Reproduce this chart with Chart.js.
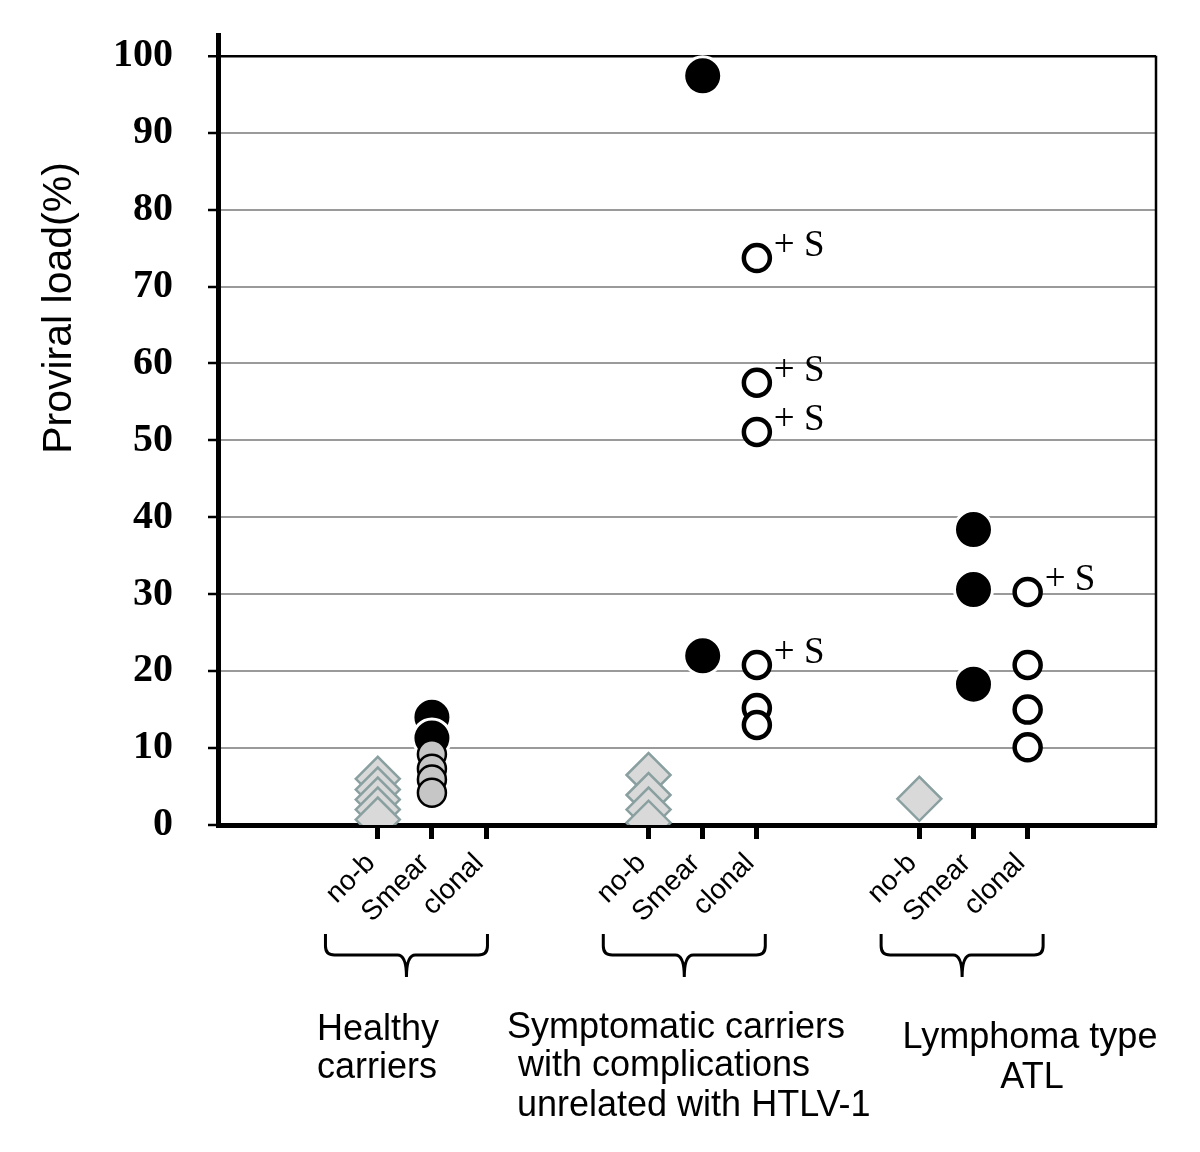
<!DOCTYPE html>
<html>
<head>
<meta charset="utf-8">
<script src="https://cdn.jsdelivr.net/npm/chart.js@4.4.1/dist/chart.umd.min.js"></script>
<style>
  html, body { margin: 0; padding: 0; background: #fff; }
</style>
</head>
<body>
<canvas id="loadChart" width="1200" height="1152"></canvas>
<script>
// Sub-categories inside each group and group captions
const subLabels = ['no-b', 'Smear', 'clonal'];
const groupNames = [
    ['Healthy', 'carriers'],
    ['Symptomatic carriers', 'with complications', ' unrelated with HTLV-1'],
    ['Lymphoma type', 'ATL']
];
const groupStart = [3, 8, 13];   // x slot of the "no-b" column of each group
const yTicks = [0, 10, 20, 30, 40, 50, 60, 70, 80, 90, 100];

// Proviral load (%)
const healthyNoB = [6.0, 4.6, 3.3, 2.0, 0.7];
const healthySmearDark = [14.0, 11.3];
const healthySmearGrey = [9.2, 7.3, 5.9, 4.2];
const symptNoB = [6.5, 3.9, 2.0, 0.3];
const symptSmear = [97.4, 22.0];
const symptClonal = [73.7, 57.5, 51.1, 20.8, 15.2, 13.0];
const symptClonalS = [true, true, true, true, false, false];
const atlNoB = [3.4];
const atlSmear = [38.4, 30.6, 18.3];
const atlClonal = [30.3, 20.8, 15.0, 10.1];
const atlClonalS = [true, false, false, false];

// helper: values -> scatter points on a slot
function pts(values, slot) {
    return values.map(v => ({ x: slot, y: v }));
}

const slots = [];
groupStart.forEach(s => slots.push(s, s + 1, s + 2));

const noBData = [].concat(pts(healthyNoB, groupStart[0]), pts(symptNoB, groupStart[1]), pts(atlNoB, groupStart[2]));
const smearDarkData = [].concat(pts(healthySmearDark, groupStart[0] + 1), pts(symptSmear, groupStart[1] + 1), pts(atlSmear, groupStart[2] + 1));
const smearGreyData = pts(healthySmearGrey, groupStart[0] + 1);
const clonalData = [].concat(pts(symptClonal, groupStart[1] + 2), pts(atlClonal, groupStart[2] + 2));
const clonalFlags = symptClonalS.concat(atlClonalS);

// Extra drawing: frame, "+ S" notes, braces, group captions, y title
const decor = {
    id: 'decor',
    afterDraw(chart) {
        const { ctx, chartArea } = chart;
        const xs = chart.scales.x, ys = chart.scales.y;
        ctx.save();

        // right side of the frame
        ctx.strokeStyle = '#000';
        ctx.lineWidth = 2.5;
        ctx.beginPath();
        ctx.moveTo(chartArea.right, ys.getPixelForValue(100));
        ctx.lineTo(chartArea.right, chartArea.bottom);
        ctx.stroke();

        // "+ S" notes
        ctx.fillStyle = '#000';
        ctx.font = '37px "Liberation Serif"';
        ctx.textAlign = 'left';
        ctx.textBaseline = 'alphabetic';
        chart.getDatasetMeta(3).data.forEach((pt, i) => {
            if (clonalFlags[i]) ctx.fillText('+ S', pt.x + 17, pt.y - 2);
        });

        // braces under each group
        const braceMid = [3.53, 8.66, 13.79];
        ctx.lineWidth = 3;
        braceMid.forEach(m => {
            const xm = xs.getPixelForValue(m);
            const xl = xm - 81, xr = xm + 81;
            const yTop = 934, yMid = 955, yTip = 977, r = 9;
            ctx.beginPath();
            ctx.moveTo(xl, yTop);
            ctx.lineTo(xl, yMid - r);
            ctx.quadraticCurveTo(xl, yMid, xl + r, yMid);
            ctx.lineTo(xm - r, yMid);
            ctx.quadraticCurveTo(xm, yMid, xm, yTip);
            ctx.moveTo(xr, yTop);
            ctx.lineTo(xr, yMid - r);
            ctx.quadraticCurveTo(xr, yMid, xr - r, yMid);
            ctx.lineTo(xm + r, yMid);
            ctx.quadraticCurveTo(xm, yMid, xm, yTip);
            ctx.stroke();
        });

        // group captions
        ctx.font = '36px "Liberation Sans"';
        ctx.textAlign = 'left';
        ctx.fillText(groupNames[0][0], 317, 1040);
        ctx.fillText(groupNames[0][1], 317, 1078);
        ctx.fillText(groupNames[1][0], 507, 1038);
        ctx.fillText(groupNames[1][1], 518, 1076);
        ctx.fillText(groupNames[1][2], 507, 1116);
        ctx.textAlign = 'center';
        ctx.fillText(groupNames[2][0], 1030, 1048);
        ctx.fillText(groupNames[2][1], 1032, 1088);

        // y axis title
        ctx.translate(60, 308);
        ctx.rotate(-Math.PI / 2);
        ctx.font = '41px "Liberation Sans"';
        ctx.textAlign = 'center';
        ctx.textBaseline = 'middle';
        ctx.fillText('Proviral load(%)', 0, 0);

        ctx.restore();
    }
};

const ctx = document.getElementById('loadChart').getContext('2d');
const loadChart = new Chart(ctx, {
    type: 'scatter',
    data: {
        datasets: [
            {
                label: 'no-b',
                data: noBData,
                pointStyle: 'rectRot',
                pointRadius: 22,
                backgroundColor: '#d9d9d9',
                borderColor: '#8aa0a0',
                borderWidth: 2.5,
                order: 3
            },
            {
                label: 'Smear',
                data: smearDarkData,
                pointRadius: 19,
                backgroundColor: '#000',
                borderColor: '#fff',
                borderWidth: 3,
                order: 2
            },
            {
                label: 'Smear (grey)',
                data: smearGreyData,
                pointRadius: 14,
                backgroundColor: '#c6c6c6',
                borderColor: '#000',
                borderWidth: 2.5,
                order: 1
            },
            {
                label: 'clonal',
                data: clonalData,
                pointRadius: 13,
                backgroundColor: '#fff',
                borderColor: '#000',
                borderWidth: 4.5,
                order: 0
            }
        ]
    },
    options: {
        responsive: false,
        animation: false,
        events: [],
        layout: { padding: { top: 35, right: 44, left: 0, bottom: 0 } },
        plugins: {
            legend: { display: false },
            tooltip: { enabled: false }
        },
        scales: {
            x: {
                type: 'linear',
                position: 'bottom',
                min: 0.05,
                max: 17.37,
                afterBuildTicks: scale => { scale.ticks = slots.map(v => ({ value: v })); },
                afterFit: scale => { scale.height = 327; },
                ticks: {
                    autoSkip: false,
                    minRotation: 45,
                    maxRotation: 45,
                    padding: 8,
                    labelOffset: -7,
                    color: '#000',
                    font: { family: 'Liberation Sans', size: 28 },
                    callback: (value, index) => subLabels[index % 3]
                },
                grid: {
                    drawOnChartArea: false,
                    drawTicks: true,
                    tickLength: 14,
                    tickWidth: 5,
                    tickColor: '#000',
                    color: '#000'
                },
                border: { display: true, width: 5, color: '#000' }
            },
            y: {
                min: 0,
                max: 102.7,
                afterBuildTicks: scale => { scale.ticks = yTicks.map(v => ({ value: v })); },
                afterFit: scale => {
                    scale.width = 218;
                    scale.paddingTop = 0;
                    scale.paddingBottom = 0;
                },
                ticks: {
                    padding: 35,
                    color: '#000',
                    font: { family: 'Liberation Serif', size: 40, weight: 'bold' }
                },
                grid: {
                    color: c => c.tick.value === 100 ? '#000' : (c.tick.value === 0 ? 'rgba(0,0,0,0)' : '#9a9a9a'),
                    lineWidth: c => c.tick.value === 100 ? 2.5 : 2,
                    tickLength: 10,
                    tickColor: '#000',
                    tickWidth: 2.5
                },
                border: { display: true, width: 5, color: '#000' }
            }
        }
    },
    plugins: [decor]
});
</script>
</body>
</html>
